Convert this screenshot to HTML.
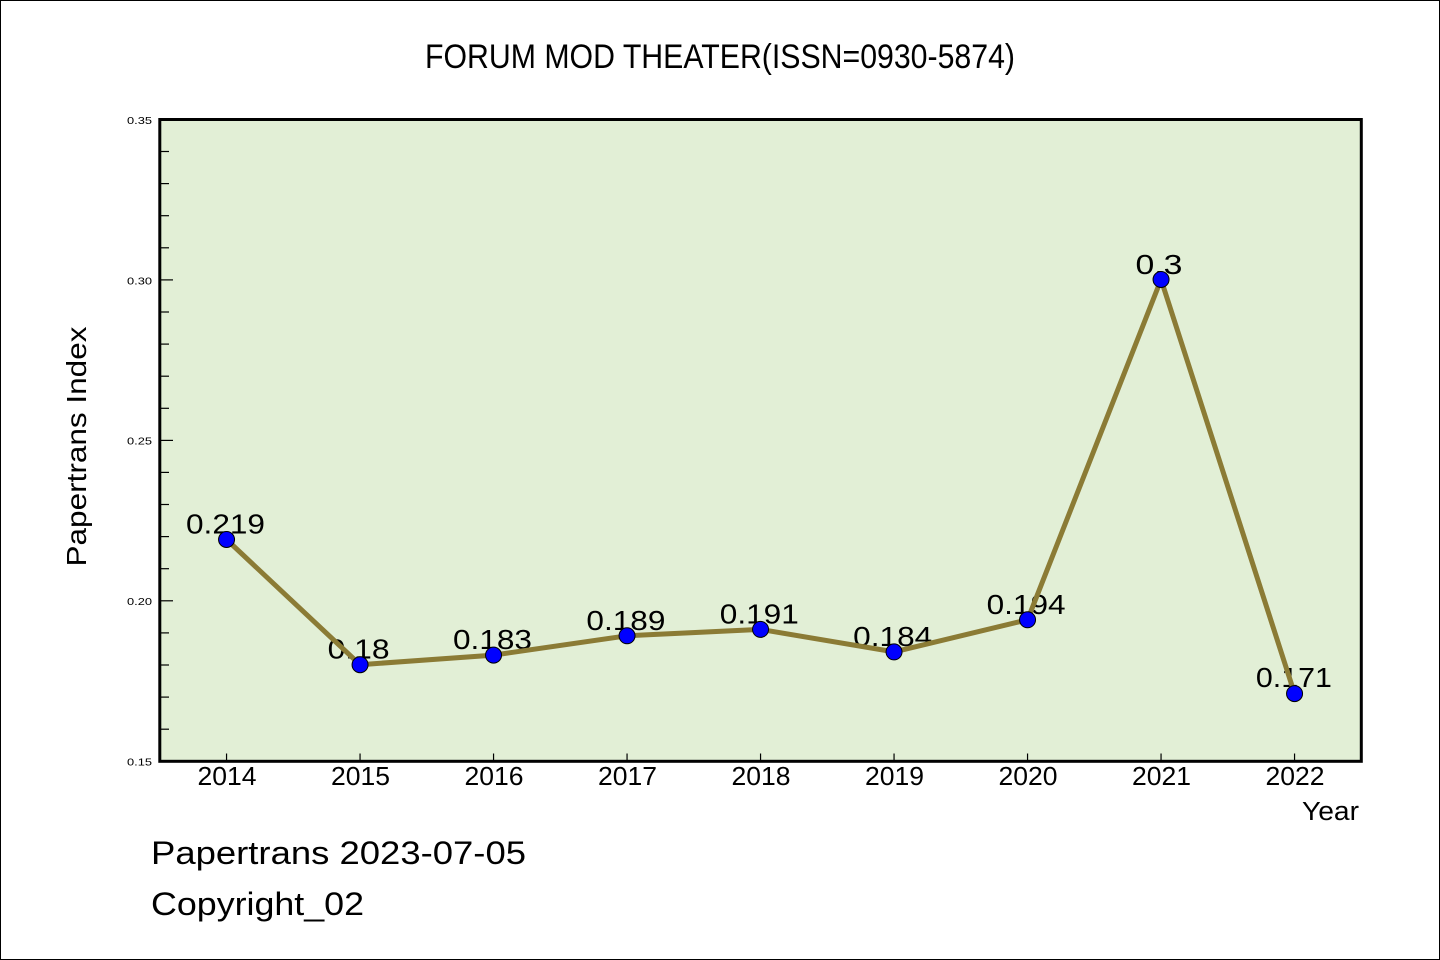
<!DOCTYPE html>
<html>
<head>
<meta charset="utf-8">
<style>
  html, body { margin:0; padding:0; background:#fff; }
  body { width:1440px; height:960px; overflow:hidden; }
  svg { display:block; }
  text { font-family: "Liberation Sans", "WenQuanYi Zen Hei", sans-serif; fill:#000; }
</style>
</head>
<body>
<svg width="1440" height="960" viewBox="0 0 1440 960" xmlns="http://www.w3.org/2000/svg">
  <rect x="0" y="0" width="1440" height="960" fill="#ffffff"/>
  <rect x="0.5" y="0.5" width="1439" height="959" fill="none" stroke="#000" stroke-width="1"/>

  <!-- Title -->
  <text x="425" y="68" font-size="34" textLength="590" lengthAdjust="spacingAndGlyphs">FORUM MOD THEATER(ISSN=0930-5874)</text>

  <!-- Plot background -->
  <rect x="159.8" y="119.5" width="1201.5" height="641.8" fill="#e2efd6"/>

  <!-- Data labels (drawn under line) -->
  <g font-size="28" text-anchor="middle">
    <text x="225.5" y="533.5" textLength="79" lengthAdjust="spacingAndGlyphs">0.219</text>
    <text x="358.6" y="658.7" textLength="62" lengthAdjust="spacingAndGlyphs">0.18</text>
    <text x="492.5" y="649.1" textLength="79" lengthAdjust="spacingAndGlyphs">0.183</text>
    <text x="625.9" y="629.8" textLength="79" lengthAdjust="spacingAndGlyphs">0.189</text>
    <text x="759.3" y="623.4" textLength="79" lengthAdjust="spacingAndGlyphs">0.191</text>
    <text x="892.7" y="645.9" textLength="79" lengthAdjust="spacingAndGlyphs">0.184</text>
    <text x="1026.1" y="613.8" textLength="79" lengthAdjust="spacingAndGlyphs">0.194</text>
    <text x="1159.0" y="274" textLength="47" lengthAdjust="spacingAndGlyphs">0.3</text>
    <text x="1293.9" y="687" textLength="76" lengthAdjust="spacingAndGlyphs">0.171</text>
  </g>

  <!-- Line -->
  <polyline fill="none" stroke="#8b7b35" stroke-width="5" stroke-linejoin="round" stroke-linecap="butt"
    points="226.55,539.5 360.05,664.7 493.55,655.1 627.05,635.8 760.55,629.4 894.05,651.9 1027.55,619.8 1161.05,279.5 1294.55,693.6"/>

  <!-- Markers -->
  <g fill="#0000ff" stroke="#000" stroke-width="1">
    <circle cx="226.55" cy="539.5" r="8"/>
    <circle cx="360.05" cy="664.7" r="8"/>
    <circle cx="493.55" cy="655.1" r="8"/>
    <circle cx="627.05" cy="635.8" r="8"/>
    <circle cx="760.55" cy="629.4" r="8"/>
    <circle cx="894.05" cy="651.9" r="8"/>
    <circle cx="1027.55" cy="619.8" r="8"/>
    <circle cx="1161.05" cy="279.5" r="8"/>
    <circle cx="1294.55" cy="693.6" r="8"/>
  </g>

  <!-- Y ticks (inward) -->
  <g stroke="#000" stroke-width="1.2">
    <line x1="161" y1="600.8" x2="173" y2="600.8"/>
    <line x1="161" y1="440.4" x2="173" y2="440.4"/>
    <line x1="161" y1="279.9" x2="173" y2="279.9"/>
    <line x1="161" y1="729.2" x2="169" y2="729.2"/>
    <line x1="161" y1="697.1" x2="169" y2="697.1"/>
    <line x1="161" y1="665.0" x2="169" y2="665.0"/>
    <line x1="161" y1="632.9" x2="169" y2="632.9"/>
    <line x1="161" y1="568.7" x2="169" y2="568.7"/>
    <line x1="161" y1="536.6" x2="169" y2="536.6"/>
    <line x1="161" y1="504.5" x2="169" y2="504.5"/>
    <line x1="161" y1="472.4" x2="169" y2="472.4"/>
    <line x1="161" y1="408.3" x2="169" y2="408.3"/>
    <line x1="161" y1="376.2" x2="169" y2="376.2"/>
    <line x1="161" y1="344.1" x2="169" y2="344.1"/>
    <line x1="161" y1="312.0" x2="169" y2="312.0"/>
    <line x1="161" y1="247.8" x2="169" y2="247.8"/>
    <line x1="161" y1="215.7" x2="169" y2="215.7"/>
    <line x1="161" y1="183.6" x2="169" y2="183.6"/>
    <line x1="161" y1="151.5" x2="169" y2="151.5"/>
  </g>

  <!-- X ticks (inward) -->
  <g stroke="#000" stroke-width="1.2">
    <line x1="226.55" y1="760" x2="226.55" y2="753.5"/>
    <line x1="360.05" y1="760" x2="360.05" y2="753.5"/>
    <line x1="493.55" y1="760" x2="493.55" y2="753.5"/>
    <line x1="627.05" y1="760" x2="627.05" y2="753.5"/>
    <line x1="760.55" y1="760" x2="760.55" y2="753.5"/>
    <line x1="894.05" y1="760" x2="894.05" y2="753.5"/>
    <line x1="1027.55" y1="760" x2="1027.55" y2="753.5"/>
    <line x1="1161.05" y1="760" x2="1161.05" y2="753.5"/>
    <line x1="1294.55" y1="760" x2="1294.55" y2="753.5"/>
  </g>

  <!-- Spines -->
  <rect x="159.8" y="119.5" width="1201.5" height="641.8" fill="none" stroke="#000" stroke-width="3"/>

  <!-- Y tick labels -->
  <g font-size="10.5" text-anchor="end">
    <text x="152" y="124" textLength="25" lengthAdjust="spacingAndGlyphs">0.35</text>
    <text x="152" y="284.3" textLength="25" lengthAdjust="spacingAndGlyphs">0.30</text>
    <text x="152" y="444.7" textLength="25" lengthAdjust="spacingAndGlyphs">0.25</text>
    <text x="152" y="605.1" textLength="25" lengthAdjust="spacingAndGlyphs">0.20</text>
    <text x="152" y="765.3" textLength="25" lengthAdjust="spacingAndGlyphs">0.15</text>
  </g>

  <!-- X tick labels -->
  <g font-size="26" text-anchor="middle">
    <text x="227" y="785" textLength="59" lengthAdjust="spacingAndGlyphs">2014</text>
    <text x="360.5" y="785" textLength="59" lengthAdjust="spacingAndGlyphs">2015</text>
    <text x="494" y="785" textLength="59" lengthAdjust="spacingAndGlyphs">2016</text>
    <text x="627.5" y="785" textLength="59" lengthAdjust="spacingAndGlyphs">2017</text>
    <text x="761" y="785" textLength="59" lengthAdjust="spacingAndGlyphs">2018</text>
    <text x="894.5" y="785" textLength="59" lengthAdjust="spacingAndGlyphs">2019</text>
    <text x="1028" y="785" textLength="59" lengthAdjust="spacingAndGlyphs">2020</text>
    <text x="1161.5" y="785" textLength="59" lengthAdjust="spacingAndGlyphs">2021</text>
    <text x="1295" y="785" textLength="59" lengthAdjust="spacingAndGlyphs">2022</text>
  </g>

  <!-- X axis label -->
  <text x="1302" y="820" font-size="25.5" textLength="57" lengthAdjust="spacingAndGlyphs">Year</text>

  <!-- Y axis label -->
  <text transform="translate(86,446.5) rotate(-90)" x="0" y="0" font-size="28" text-anchor="middle" textLength="240" lengthAdjust="spacingAndGlyphs">Papertrans Index</text>

  <!-- Footer -->
  <text x="151" y="864" font-size="32" textLength="375" lengthAdjust="spacingAndGlyphs">Papertrans 2023-07-05</text>
  <text x="151" y="915" font-size="32" textLength="213" lengthAdjust="spacingAndGlyphs">Copyright_02</text>
</svg>
</body>
</html>
